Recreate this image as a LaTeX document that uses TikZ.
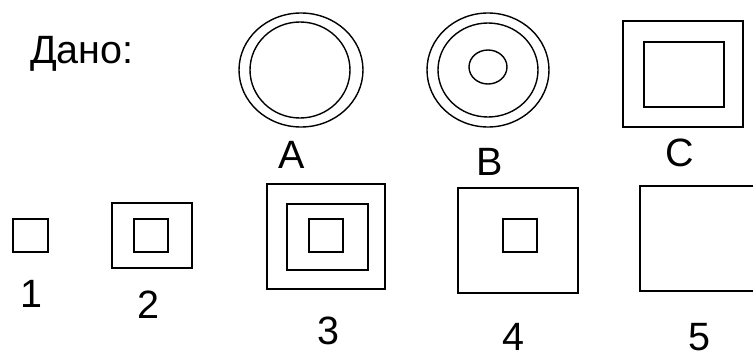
\documentclass[tikz,border=0pt]{standalone}
\usepackage{fontspec}
\setmainfont{Liberation Sans}
\begin{document}
\begin{tikzpicture}[x=1pt,y=-1pt,
  lbl/.style={anchor=base,inner sep=0pt,text depth=0pt,font=\fontsize{39.5}{42}\selectfont},
  ring/.style={line width=1.4pt},
  box/.style={line width=1.8pt}]
\useasboundingbox[fill=white] (0,0) rectangle (753,356);
\node[lbl,anchor=base west] (dano) at (30,63) {Дано:};
% A
\draw[ring] (301,70) ellipse [x radius=62pt, y radius=57pt];
\draw[ring] (300,70) ellipse [x radius=50pt, y radius=48pt];
\node[lbl] (la) at (292,168) {A};
% B
\draw[ring] (488,70) ellipse [x radius=61pt, y radius=57pt];
\draw[ring] (488,70) ellipse [x radius=50pt, y radius=47pt];
\draw[ring] (488,67) ellipse [x radius=19pt, y radius=17pt];
\node[lbl] (lb) at (490,175) {B};
% C
\draw[box] (623,21) rectangle (743,127);
\draw[box] (644,42) rectangle (724,107);
\node[lbl] (lc) at (680,166) {C};
% 1
\draw[box] (13,219) rectangle (48,252);
\node[lbl] (l1) at (31,307) {1};
% 2
\draw[box] (112,203) rectangle (192,268);
\draw[box] (134,219) rectangle (168,252);
\node[lbl] (l2) at (148,318) {2};
% 3
\draw[box] (267,184) rectangle (385,289);
\draw[box] (287,204) rectangle (368,270);
\draw[box] (309,219) rectangle (343,252);
\node[lbl] (l3) at (328,344) {3};
% 4
\draw[box] (458,188) rectangle (578,293);
\draw[box] (503,219) rectangle (537,252);
\node[lbl] (l4) at (513,350) {4};
% 5
\draw[box] (753,186) -- (640,186) -- (640,291) -- (753,291);
\node[lbl] (l5) at (699,350) {5};
\end{tikzpicture}
\end{document}
